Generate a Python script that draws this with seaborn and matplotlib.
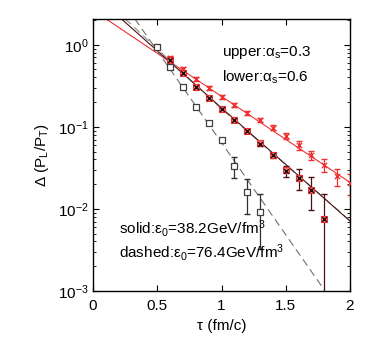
import numpy as np
import pandas as pd
import seaborn as sns
import matplotlib
matplotlib.use('Agg')
import matplotlib.pyplot as plt

# data
# upper, solid (alpha_s=0.3, eps0=38.2) : red x
a_x = [0.6, 0.7, 0.8, 0.9, 1.0, 1.1, 1.2, 1.3, 1.4, 1.5, 1.6, 1.7, 1.8, 1.9, 2.0]
a_y = [0.69, 0.51, 0.38, 0.30, 0.23, 0.184, 0.147, 0.121, 0.098, 0.078, 0.060, 0.045, 0.034, 0.025, 0.0206]
a_err = [0.03, 0.025, 0.02, 0.015, 0.012, 0.01, 0.008, 0.007, 0.006, 0.006, 0.0075, 0.006, 0.006, 0.0058, 0.006]

# upper, dashed (alpha_s=0.3, eps0=76.4) : red squares
b_x = [0.5, 0.6, 0.7, 0.8, 0.9, 1.0, 1.1, 1.2, 1.3, 1.4, 1.5, 1.6, 1.7, 1.8]
b_y = [0.95, 0.66, 0.45, 0.31, 0.225, 0.165, 0.12, 0.088, 0.063, 0.045, 0.03, 0.024, 0.017, 0.0076]

# lower, solid (alpha_s=0.6, eps0=38.2) : dark x
c_x = [0.6, 0.7, 0.8, 0.9, 1.0, 1.1, 1.2, 1.3, 1.4, 1.5, 1.6, 1.7, 1.8]
c_y = [0.65, 0.45, 0.31, 0.224, 0.164, 0.121, 0.088, 0.0625, 0.045, 0.029, 0.024, 0.017, 0.0076]
c_err = [0.025, 0.02, 0.014, 0.01, 0.008, 0.006, 0.005, 0.004, 0.003, 0.0045, 0.0068, 0.0073, 0.0074]

# lower, dashed (alpha_s=0.6, eps0=76.4) : gray squares
d_x = [0.5, 0.6, 0.7, 0.8, 0.9, 1.0, 1.1, 1.2, 1.3]
d_y = [0.95, 0.54, 0.31, 0.175, 0.112, 0.070, 0.033, 0.016, 0.0092]
d_err = [0.03, 0.02, 0.01, 0.006, 0.004, 0.004, 0.0095, 0.0074, 0.006]

# fit lines
la_x = [0.1, 1.0, 2.0]
la_y = [2.07, 0.235, 0.021]
lb_x = [0.25, 1.0, 2.0]
lb_y = [2.07, 0.165, 0.0072]
lc_x = [0.22, 1.0, 2.0]
lc_y = [2.07, 0.17, 0.0071]
ld_x = [0.325, 1.0, 1.805]
ld_y = [2.07, 0.064, 0.001]

xticks = [0, 0.5, 1, 1.5, 2]
xlabels = ['0', '0.5', '1', '1.5', '2']

sns.set_theme(style='ticks')
plt.rcParams['font.family'] = ['Liberation Sans', 'DejaVu Sans']
plt.rcParams['mathtext.fontset'] = 'custom'
plt.rcParams['mathtext.rm'] = 'Liberation Sans'
plt.rcParams['mathtext.it'] = 'Liberation Sans:italic'
plt.rcParams['font.size'] = 11
plt.rcParams['text.color'] = 'black'
plt.rcParams['axes.labelcolor'] = 'black'
plt.rcParams['xtick.direction'] = 'in'
plt.rcParams['ytick.direction'] = 'in'
plt.rcParams['xtick.top'] = True
plt.rcParams['ytick.right'] = True

fig = plt.figure(figsize=(3.68, 3.43), dpi=100)
ax = fig.add_axes([0.253, 0.152, 0.698, 0.793])

red = '#f03030'
dark = '#4a1414'
gray = '#707070'

# lines
sns.lineplot(x=la_x, y=la_y, ax=ax, color=red, lw=0.8)
sns.lineplot(x=lb_x, y=lb_y, ax=ax, color='#909090', lw=0.8)
ax.lines[-1].set_dashes([7, 4])
sns.lineplot(x=lc_x, y=lc_y, ax=ax, color=dark, lw=0.8)
sns.lineplot(x=ld_x, y=ld_y, ax=ax, color=gray, lw=0.8)
ax.lines[-1].set_dashes([7, 4])

# points
ax.errorbar(a_x, a_y, yerr=a_err, fmt='none', ecolor=red, elinewidth=0.9, capsize=2.2)
sns.scatterplot(x=a_x, y=a_y, ax=ax, marker='x', color=red, s=14, linewidth=1.0, zorder=4)

sns.scatterplot(x=b_x, y=b_y, ax=ax, marker='s', s=22, color='#f08080',
                edgecolor=red, linewidth=0.8, zorder=4)
ax.errorbar(c_x, c_y, yerr=c_err, fmt='none', ecolor=dark, elinewidth=0.9, capsize=2.2)
sns.scatterplot(x=c_x, y=c_y, ax=ax, marker='x', color='#200808', s=12, linewidth=1.0, zorder=5)

ax.errorbar(d_x, d_y, yerr=d_err, fmt='none', ecolor='#303030', elinewidth=0.9, capsize=2.2)
sns.scatterplot(x=d_x, y=d_y, ax=ax, marker='s', s=18, facecolor='white',
                edgecolor='#404040', linewidth=0.9, zorder=6)

ax.set_yscale('log')
ax.set_xlim(0, 2)
ax.set_ylim(1e-3, 2.07)
ax.set_xticks(xticks)
ax.set_xticklabels(xlabels)
ax.tick_params(which='major', length=4, width=0.8, colors='black', labelsize=11)
ax.tick_params(which='minor', length=2, width=0.6, colors='black')
ax.tick_params(axis='x', pad=6)
ax.minorticks_on()
ax.xaxis.set_minor_locator(matplotlib.ticker.NullLocator())
for s in ax.spines.values():
    s.set_color('black')
    s.set_linewidth(1.0)

ax.set_xlabel('τ (fm/c)', fontsize=11, labelpad=4)
ax.set_ylabel('Δ (P$_\\mathregular{L}$/P$_\\mathregular{T}$)', fontsize=11, labelpad=5)

ax.text(1.0, 0.8, 'upper:α$_\\mathregular{s}$=0.3', fontsize=11, va='center', ha='left')
ax.text(1.0, 0.40, 'lower:α$_\\mathregular{s}$=0.6', fontsize=11, va='center', ha='left')
ax.text(0.205, 0.0057, 'solid:ε$_\\mathregular{0}$=38.2GeV/fm$^\\mathregular{3}$', fontsize=11, va='center', ha='left')
ax.text(0.205, 0.0029, 'dashed:ε$_\\mathregular{0}$=76.4GeV/fm$^\\mathregular{3}$', fontsize=11, va='center', ha='left')

fig.savefig('out.png', dpi=100)
